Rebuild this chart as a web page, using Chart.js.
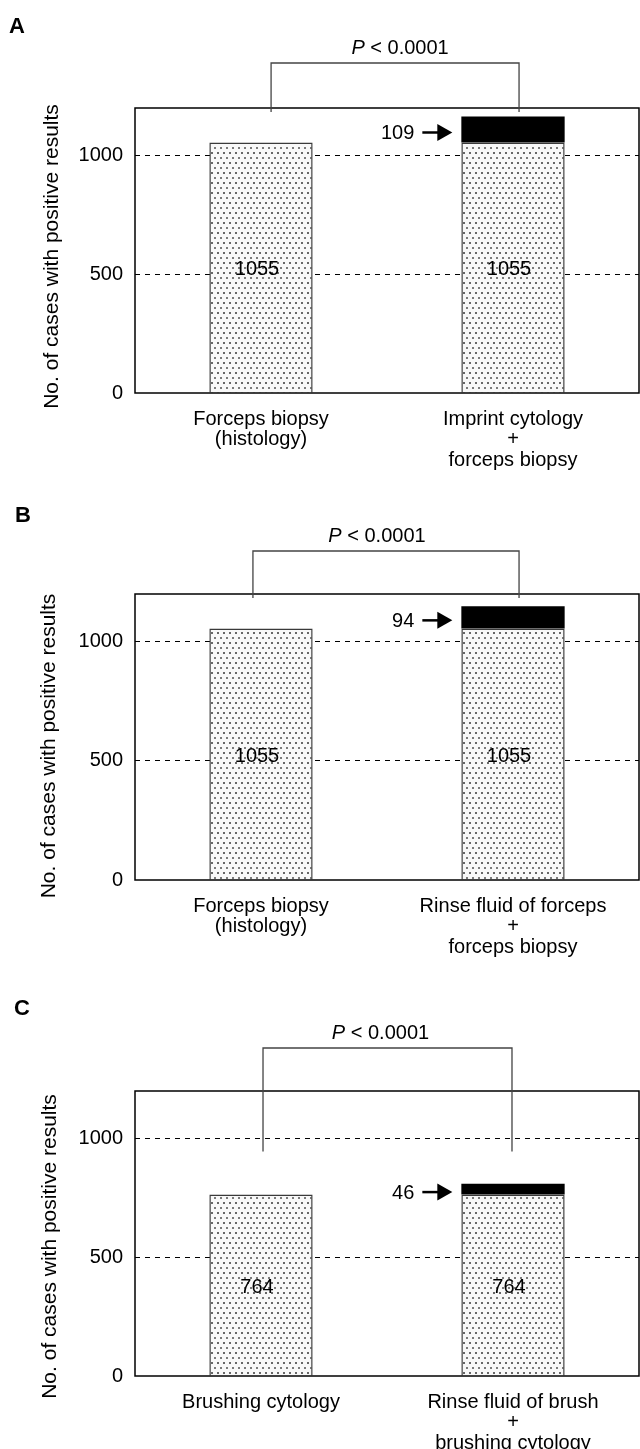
<!DOCTYPE html>
<html><head><meta charset="utf-8">
<script src="https://cdn.jsdelivr.net/npm/chart.js@4.4.0/dist/chart.umd.min.js"></script>
<style>
html,body{margin:0;padding:0;background:#fff;}
#wrap{position:relative;width:640px;height:1449px;overflow:hidden;}
canvas{position:absolute;left:0;}
</style></head><body>
<div id="wrap">
<canvas id="cA" width="640" height="480" style="top:0px"></canvas>
<canvas id="cB" width="640" height="520" style="top:460px"></canvas>
<canvas id="cC" width="640" height="489" style="top:960px"></canvas>
</div>
<script>
// ---- data ----
const yTitle = 'No. of cases with positive results';
const yTicks = [0, 500, 1000];
const pLabel = ['P', ' < 0.0001'];

const categoriesA = [['Forceps biopsy', '(histology)'], ['Imprint cytology', '+', 'forceps biopsy']];
const baseA = [1055, 1055];
const addedA = [null, 109];

const categoriesB = [['Forceps biopsy', '(histology)'], ['Rinse fluid of forceps', '+', 'forceps biopsy']];
const baseB = [1055, 1055];
const addedB = [null, 94];

const categoriesC = [['Brushing cytology'], ['Rinse fluid of brush', '+', 'brushing cytology']];
const baseC = [764, 764];
const addedC = [null, 46];

// ---- styling ----
const FAM = '"Liberation Sans", Arial, Helvetica, sans-serif';
Chart.defaults.font.family = FAM;
Chart.defaults.color = '#000';

function dotPattern() {
  const c = document.createElement('canvas');
  c.width = 6; c.height = 10;
  const g = c.getContext('2d');
  g.fillStyle = '#f8f8f8'; g.fillRect(0, 0, 6, 10);
  g.fillStyle = '#666666'; g.fillRect(1, 2, 2, 2);
  g.fillStyle = '#7a7a7a'; g.fillRect(4, 7, 2, 2);
  return c;
}

const decor = {
  id: 'decor',
  afterDraw(chart, args, o) {
    const {ctx, chartArea: a, scales: {x, y}} = chart;
    ctx.save();
    // frame
    ctx.strokeStyle = '#000'; ctx.lineWidth = 1.5;
    ctx.strokeRect(a.left, a.top, a.right - a.left, a.bottom - a.top);
    // panel letter
    ctx.fillStyle = '#000';
    ctx.font = 'bold 22px ' + FAM; ctx.textAlign = 'left'; ctx.textBaseline = 'alphabetic';
    ctx.fillText(o.letter, o.letterX, o.letterY);
    // y title
    ctx.save();
    ctx.translate(o.titleX, (a.top + a.bottom) / 2 + o.titleDy);
    ctx.rotate(-Math.PI / 2);
    ctx.font = '21px ' + FAM; ctx.textAlign = 'center'; ctx.textBaseline = 'middle';
    ctx.fillText(yTitle, 0, 0);
    ctx.restore();
    // significance bracket
    const xl = x.getPixelForValue(o.bracket[0]);
    const xr = x.getPixelForValue(o.bracket[1]);
    const top = a.top - o.bracketRise;
    const legB = y.getPixelForValue(o.legValue);
    ctx.strokeStyle = '#444'; ctx.lineWidth = 1.3;
    ctx.beginPath();
    ctx.moveTo(xl, legB); ctx.lineTo(xl, top); ctx.lineTo(xr, top); ctx.lineTo(xr, legB);
    ctx.stroke();
    // P text
    ctx.font = 'italic 20px ' + FAM;
    const w1 = ctx.measureText(pLabel[0]).width;
    ctx.font = '20px ' + FAM;
    const w2 = ctx.measureText(pLabel[1]).width;
    let tx = (xl + xr) / 2 + o.textDx - (w1 + w2) / 2;
    const ty = top - 9;
    ctx.fillStyle = '#000';
    ctx.textAlign = 'left'; ctx.textBaseline = 'alphabetic';
    ctx.font = 'italic 20px ' + FAM; ctx.fillText(pLabel[0], tx, ty);
    ctx.font = '20px ' + FAM; ctx.fillText(pLabel[1], tx + w1, ty);
    // value labels on base bars
    const m0 = chart.getDatasetMeta(0);
    ctx.font = '20px ' + FAM; ctx.textAlign = 'center'; ctx.textBaseline = 'middle';
    m0.data.forEach((el, i) => {
      const v = chart.data.datasets[0].data[i];
      ctx.fillText(String(v), el.x - 4, (el.y + el.base) / 2 + 2);
    });
    // arrow labels for the added segments
    const m1 = chart.getDatasetMeta(1);
    m1.data.forEach((el, i) => {
      const v = chart.data.datasets[1].data[i];
      if (v === null || v === undefined) return;
      const left = el.x - el.width / 2;
      const cy = (el.y + el.base) / 2 + 3;
      const tip = left - 9;
      const headL = 15, total = 30;
      ctx.fillStyle = '#000'; ctx.strokeStyle = '#000'; ctx.lineWidth = 2.5;
      ctx.beginPath(); ctx.moveTo(tip - total, cy); ctx.lineTo(tip - headL + 1, cy); ctx.stroke();
      ctx.beginPath(); ctx.moveTo(tip, cy); ctx.lineTo(tip - headL, cy - 8.5); ctx.lineTo(tip - headL, cy + 8.5); ctx.closePath(); ctx.fill();
      ctx.textAlign = 'right'; ctx.textBaseline = 'middle';
      ctx.fillText(String(v), tip - total - 8, cy + 1);
    });
    ctx.restore();
  }
};

function makePanel(id, cats, base, added, opt) {
  const pat = document.getElementById(id).getContext('2d').createPattern(dotPattern(), 'repeat');
  return new Chart(document.getElementById(id), {
    type: 'bar',
    data: {
      labels: cats,
      datasets: [
        {data: base, backgroundColor: pat, borderColor: '#3a3a3a', borderWidth: 1.5, borderSkipped: 'bottom'},
        {data: added, backgroundColor: '#000', borderColor: '#000', borderWidth: 0}
      ]
    },
    options: {
      responsive: false, animation: false,
      devicePixelRatio: 1,
      layout: {padding: {top: opt.padTop, bottom: 0, left: 0, right: 1}},
      datasets: {bar: {categoryPercentage: 1, barPercentage: 0.41}},
      plugins: {legend: {display: false}, tooltip: {enabled: false}, decor: opt.decor},
      scales: {
        x: {
          stacked: true,
          grid: {display: false}, border: {display: false},
          ticks: {font: {size: 20, lineHeight: 1.03}, color: '#000', padding: 8, maxRotation: 0, autoSkip: false},
          afterFit: s => { s.height = opt.xHeight; }
        },
        y: {
          stacked: true, min: 0, max: 1200,
          afterBuildTicks: s => { s.ticks = yTicks.map(v => ({value: v})); },
          afterFit: s => { s.width = 135; },
          ticks: {font: {size: 20}, color: '#000', padding: 12, callback: v => String(v)},
          grid: {color: ctx => ctx.tick && ctx.tick.value === 0 ? 'rgba(0,0,0,0)' : '#000', lineWidth: 1, drawTicks: false},
          border: {display: false, dash: [5, 5]}
        }
      }
    },
    plugins: [decor]
  });
}

makePanel('cA', categoriesA, baseA, addedA, {
  padTop: 108, xHeight: 87,
  decor: {letter: 'A', letterX: 9, letterY: 33, titleX: 52, titleDy: 6,
          bracket: [0.04, 1.024], bracketRise: 45, legValue: 1183, textDx: 5}
});
makePanel('cB', categoriesB, baseB, addedB, {
  padTop: 134, xHeight: 100,
  decor: {letter: 'B', letterX: 15, letterY: 62, titleX: 49, titleDy: 9,
          bracket: [-0.032, 1.024], bracketRise: 43, legValue: 1183, textDx: -9}
});
makePanel('cC', categoriesC, baseC, addedC, {
  padTop: 131, xHeight: 73,
  decor: {letter: 'C', letterX: 14, letterY: 55, titleX: 50, titleDy: 13,
          bracket: [0.008, 0.996], bracketRise: 43, legValue: 945, textDx: -7}
});
</script>
</body></html>
